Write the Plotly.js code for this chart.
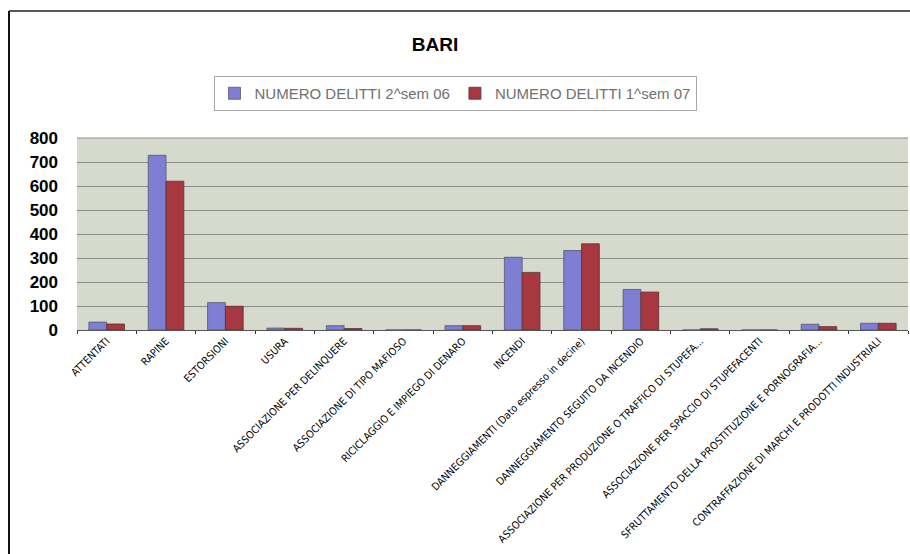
<!DOCTYPE html>
<html>
<head>
<meta charset="utf-8">
<script src="https://cdn.plot.ly/plotly-3.0.1.min.js"></script>
<style>
html,body{margin:0;padding:0;background:#fff;}
#chart{width:910px;height:554px;}
</style>
</head>
<body>
<div id="chart"></div>
<script>
var categories = [
  "ATTENTATI",
  "RAPINE",
  "ESTORSIONI",
  "USURA",
  "ASSOCIAZIONE PER DELINQUERE",
  "ASSOCIAZIONE DI TIPO MAFIOSO",
  "RICICLAGGIO E IMPIEGO DI DENARO",
  "INCENDI",
  "DANNEGGIAMENTI (Dato espresso in decine)",
  "DANNEGGIAMENTO SEGUITO DA INCENDIO",
  "ASSOCIAZIONE PER PRODUZIONE O TRAFFICO DI STUPEFA...",
  "ASSOCIAZIONE PER SPACCIO DI STUPEFACENTI",
  "SFRUTTAMENTO DELLA PROSTITUZIONE E PORNOGRAFIA...",
  "CONTRAFFAZIONE DI MARCHI E PRODOTTI INDUSTRIALI"
];
var seriesNames = ["NUMERO DELITTI 2^sem 06", "NUMERO DELITTI 1^sem 07"];
var sem2_06 = [33, 728, 114, 8, 18, 0, 18, 303, 331, 169, 0, 0, 24, 28];
var sem1_07 = [25, 620, 99, 7, 6, 0, 18, 240, 359, 158, 5, 0, 14, 28];
var yTicks = [0, 100, 200, 300, 400, 500, 600, 700, 800];

var L = 77, R = 2, T = 138, B = 224, W = 910, H = 554;
var pw = W - L - R, ph = H - T - B;
function px(x){ return (x - L) / pw; }
function py(y){ return (H - B - y) / ph; }

var traces = [
  {type:"bar", name:seriesNames[0], x:categories, y:sem2_06,
   marker:{color:"#7e7ed2", line:{color:"#55556a", width:0.8}}},
  {type:"bar", name:seriesNames[1], x:categories, y:sem1_07,
   marker:{color:"#a8383f", line:{color:"#5a3035", width:0.8}}}
];

var layout = {
  width: W, height: H,
  margin:{l:L, r:R, t:T, b:B},
  paper_bgcolor:"#ffffff",
  plot_bgcolor:"#d6dacd",
  barmode:"group",
  bargap:0.4,
  bargroupgap:0,
  title:{text:"<b>BARI</b>", xref:"container", yref:"container",
         x:435/W, y:1-44/H, xanchor:"center", yanchor:"middle",
         font:{family:"Liberation Sans, Arial, sans-serif", size:19, color:"#000"}},
  showlegend:true,
  legend:{orientation:"h", x:px(455), y:py(76), xanchor:"center", yanchor:"top",
          bgcolor:"#ffffff", bordercolor:"#a8a8a8", borderwidth:1,
          font:{family:"Liberation Sans, Arial, sans-serif", size:15, color:"#707070"},
          itemwidth:30, tracegroupgap:0},
  xaxis:{type:"category", tickangle:-45, tickson:"boundaries", ticks:"outside",
         ticklen:3, tickcolor:"#333", showgrid:false, showline:true,
         linecolor:"#555", linewidth:1,
         tickfont:{family:"DejaVu Sans Condensed, Liberation Sans Narrow, sans-serif", size:10.5, color:"#000"},
         automargin:false},
  yaxis:{range:[0,800], tickvals:yTicks, ticktext:yTicks.map(String),
         showgrid:true, gridcolor:"#8c8c88", gridwidth:1, zeroline:true,
         zerolinecolor:"#555", showline:false, ticks:"", ticklabelstandoff:18,
         tickfont:{family:"Liberation Sans, Arial, sans-serif", size:17, color:"#000", weight:"bold"},
         automargin:false},
  shapes:[
    {type:"line", xref:"paper", yref:"paper", x0:px(9), x1:px(9), y0:py(11), y1:py(554),
     line:{color:"#111", width:2}},
    {type:"line", xref:"paper", yref:"paper", x0:px(9), x1:px(910), y0:py(11), y1:py(11),
     line:{color:"#222", width:1.5}},
    {type:"line", xref:"paper", yref:"paper", x0:0, x1:1, y0:1, y1:1,
     line:{color:"#8c8c88", width:1}}
  ]
};

Plotly.newPlot("chart", traces, layout, {displayModeBar:false, staticPlot:true});
</script>
</body>
</html>
